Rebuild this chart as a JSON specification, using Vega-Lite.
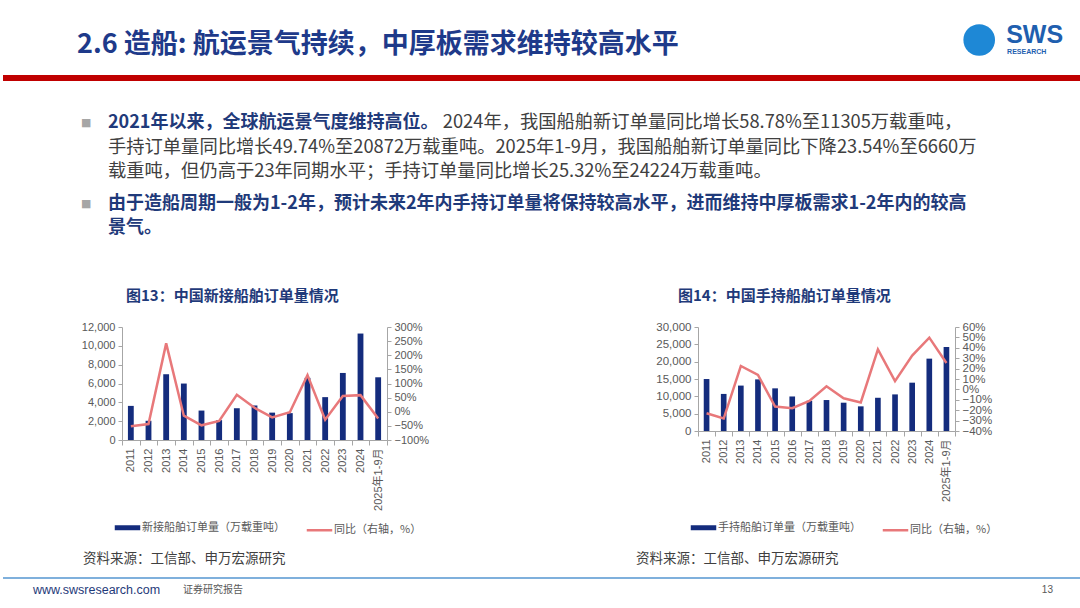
{
  "$schema": "https://vega.github.io/schema/vega-lite/v6.json",
  "padding": 0,
  "background": "white",
  "spacing": 10,
  "config": {
    "view": {"stroke": null},
    "font": "Liberation Sans, Noto Sans CJK SC"
  },
  "vconcat": [
    {
      "width": 1080,
      "height": 279,
      "data": {"values": [
        {"role": "header", "col": -1.72, "line": 1.8, "text": "2.6 造船: 航运景气持续，中厚板需求维持较高水平"},
        {"role": "logoSWS", "col": 49.9, "line": 1.4, "text": "SWS"},
        {"role": "logoRes", "col": 49.95, "line": 2.08, "text": "RESEARCH"},
        {"role": "logoDot", "col": 48.4, "line": 1.6, "text": ""},
        {"role": "bullet", "col": -1.5, "line": 4.92, "text": "■"},
        {"role": "bullet", "col": -1.5, "line": 8.16, "text": "■"},
        {"role": "bold", "col": 0, "line": 4.92, "text": "2021年以来，全球航运景气度维持高位。"},
        {"role": "normal", "col": 18.6, "line": 4.92, "text": "2024年，我国船舶新订单量同比增长58.78%至11305万载重吨，"},
        {"role": "normal", "col": 0, "line": 5.92, "text": "手持订单量同比增长49.74%至20872万载重吨。2025年1-9月，我国船舶新订单量同比下降23.54%至6660万"},
        {"role": "normal", "col": 0, "line": 6.88, "text": "载重吨，但仍高于23年同期水平；手持订单量同比增长25.32%至24224万载重吨。"},
        {"role": "bold", "col": 0, "line": 8.16, "text": "由于造船周期一般为1-2年，预计未来2年内手持订单量将保持较高水平，进而维持中厚板需求1-2年内的较高"},
        {"role": "bold", "col": 0, "line": 9.12, "text": "景气。"}
      ]},
      "layer": [
        {
          "transform": [{"filter": "datum.role === 'header'"}],
          "mark": {"type": "rule", "color": "#C00000", "strokeWidth": 6},
          "encoding": {
            "y": {"datum": 3.12, "type": "quantitative", "scale": {"domain": [0, 11.16], "reverse": true}, "axis": null}
          }
        },
        {
          "transform": [{"filter": "datum.role === 'logoDot'"}],
          "mark": {"type": "circle", "color": "#1E88D6", "opacity": 1, "size": 1000},
          "encoding": {
            "x": {"field": "col", "type": "quantitative", "scale": {"domain": [-5.8333, 54.1667]}, "axis": null},
            "y": {"field": "line", "type": "quantitative", "scale": {"domain": [0, 11.16], "reverse": true}, "axis": null}
          }
        },
        {
          "transform": [{"filter": "datum.role === 'header'"}],
          "mark": {"type": "text", "align": "left", "baseline": "middle", "font": "Noto Sans CJK SC", "fontSize": 27, "fontWeight": "bold", "color": "#1E3A8A"},
          "encoding": {
            "x": {"field": "col", "type": "quantitative", "scale": {"domain": [-5.8333, 54.1667]}, "axis": null},
            "y": {"field": "line", "type": "quantitative", "scale": {"domain": [0, 11.16], "reverse": true}, "axis": null},
            "text": {"field": "text"}
          }
        },
        {
          "transform": [{"filter": "datum.role === 'logoSWS'"}],
          "mark": {"type": "text", "align": "left", "baseline": "middle", "font": "Liberation Sans", "fontSize": 25, "fontWeight": "bold", "color": "#1F5FAF"},
          "encoding": {
            "x": {"field": "col", "type": "quantitative", "scale": {"domain": [-5.8333, 54.1667]}, "axis": null},
            "y": {"field": "line", "type": "quantitative", "scale": {"domain": [0, 11.16], "reverse": true}, "axis": null},
            "text": {"field": "text"}
          }
        },
        {
          "transform": [{"filter": "datum.role === 'logoRes'"}],
          "mark": {"type": "text", "align": "left", "baseline": "middle", "font": "Liberation Sans", "fontSize": 7, "fontWeight": "bold", "color": "#1F5FAF"},
          "encoding": {
            "x": {"field": "col", "type": "quantitative", "scale": {"domain": [-5.8333, 54.1667]}, "axis": null},
            "y": {"field": "line", "type": "quantitative", "scale": {"domain": [0, 11.16], "reverse": true}, "axis": null},
            "text": {"field": "text"}
          }
        },
        {
          "transform": [{"filter": "datum.role === 'bullet'"}],
          "mark": {"type": "text", "align": "left", "baseline": "middle", "font": "DejaVu Sans", "fontSize": 11, "color": "#A6A6A6"},
          "encoding": {
            "x": {"field": "col", "type": "quantitative", "scale": {"domain": [-5.8333, 54.1667]}, "axis": null},
            "y": {"field": "line", "type": "quantitative", "scale": {"domain": [0, 11.16], "reverse": true}, "axis": null},
            "text": {"field": "text"}
          }
        },
        {
          "transform": [{"filter": "datum.role === 'bold'"}],
          "mark": {"type": "text", "align": "left", "baseline": "middle", "font": "Noto Sans CJK SC", "fontSize": 18, "fontWeight": "bold", "color": "#1F3A7A"},
          "encoding": {
            "x": {"field": "col", "type": "quantitative", "scale": {"domain": [-5.8333, 54.1667]}, "axis": null},
            "y": {"field": "line", "type": "quantitative", "scale": {"domain": [0, 11.16], "reverse": true}, "axis": null},
            "text": {"field": "text"}
          }
        },
        {
          "transform": [{"filter": "datum.role === 'normal'"}],
          "mark": {"type": "text", "align": "left", "baseline": "middle", "font": "Noto Sans CJK SC", "fontSize": 18.3, "color": "#404040"},
          "encoding": {
            "x": {"field": "col", "type": "quantitative", "scale": {"domain": [-5.8333, 54.1667]}, "axis": null},
            "y": {"field": "line", "type": "quantitative", "scale": {"domain": [0, 11.16], "reverse": true}, "axis": null},
            "text": {"field": "text"}
          }
        }
      ]
    },
    {
      "spacing": 0,
      "hconcat": [
        {
          "width": 78,
          "height": 10,
          "data": {"values": []},
          "mark": {"type": "text"},
          "encoding": {}
        },
        {
          "spacing": 226,
          "resolve": {"scale": {"color": "independent"}, "legend": {"color": "independent"}},
          "hconcat": [
            {
              "width": 265,
              "height": 113,
              "title": {"text": "图13：中国新接船舶订单量情况", "anchor": "start", "frame": "group", "font": "Noto Sans CJK SC", "fontSize": 15, "fontWeight": "bold", "color": "#1F3A7A", "offset": 17, "dx": 4},
              "data": {"values": [
                {"year": "2011", "orders": 3622, "yoy": -0.51},
                {"year": "2012", "orders": 2041, "yoy": -0.436},
                {"year": "2013", "orders": 6984, "yoy": 2.42},
                {"year": "2014", "orders": 5995, "yoy": -0.14},
                {"year": "2015", "orders": 3126, "yoy": -0.48},
                {"year": "2016", "orders": 2107, "yoy": -0.326},
                {"year": "2017", "orders": 3373, "yoy": 0.6},
                {"year": "2018", "orders": 3667, "yoy": 0.14},
                {"year": "2019", "orders": 2907, "yoy": -0.2},
                {"year": "2020", "orders": 2853, "yoy": -0.02},
                {"year": "2021", "orders": 6600, "yoy": 1.3},
                {"year": "2022", "orders": 4552, "yoy": -0.28},
                {"year": "2023", "orders": 7120, "yoy": 0.56},
                {"year": "2024", "orders": 11305, "yoy": 0.5878},
                {"year": "2025年1-9月", "orders": 6660, "yoy": -0.2354}
              ]},
              "encoding": {
                "x": {"field": "year", "type": "ordinal", "sort": null, "scale": {"paddingInner": 0, "paddingOuter": 0},
                  "axis": {"title": null, "labelAngle": -90, "labelFontSize": 11, "labelColor": "#595959", "tickBand": "extent", "domainColor": "#A6A6A6", "tickColor": "#A6A6A6", "tickSize": 5, "labelPadding": 3}}
              },
              "layer": [
                {
                  "mark": {"type": "bar", "width": {"band": 0.33}},
                  "encoding": {
                    "y": {"field": "orders", "type": "quantitative", "scale": {"domain": [0, 12000]},
                      "axis": {"orient": "left", "title": null, "values": [0, 2000, 4000, 6000, 8000, 10000, 12000], "format": ",d", "grid": false, "labelOverlap": false, "labelFontSize": 11, "labelColor": "#595959", "domainColor": "#A6A6A6", "tickColor": "#A6A6A6", "tickSize": 4, "labelPadding": 3}},
                    "color": {"datum": "新接船舶订单量（万载重吨）", "type": "nominal",
                      "scale": {"domain": ["新接船舶订单量（万载重吨）", "同比（右轴，%）"], "range": ["#142C7D", "#E8787A"]},
                      "legend": {"orient": "bottom", "direction": "horizontal", "title": null, "symbolType": "stroke", "symbolSize": 650, "labelOffset": 9, "labelFontSize": 11, "labelColor": "#595959", "labelFont": "Noto Sans CJK SC", "columnPadding": 16, "offset": 11,
                        "encode": {"symbols": {"update": {"stroke": {"signal": "datum.value === '同比（右轴，%）' ? '#E8787A' : '#142C7D'"}, "strokeWidth": {"signal": "datum.value === '同比（右轴，%）' ? 2.5 : 5"}}}}}}
                  }
                },
                {
                  "mark": {"type": "line", "strokeWidth": 2.5},
                  "encoding": {
                    "y": {"field": "yoy", "type": "quantitative", "scale": {"domain": [-1, 3]},
                      "axis": {"orient": "right", "title": null, "values": [-1, -0.5, 0, 0.5, 1, 1.5, 2, 2.5, 3], "format": ".0%", "grid": false, "labelOverlap": false, "labelFontSize": 11, "labelColor": "#595959", "domainColor": "#A6A6A6", "tickColor": "#A6A6A6", "tickSize": 4, "labelPadding": 3}},
                    "color": {"datum": "同比（右轴，%）", "type": "nominal"}
                  }
                }
              ],
              "resolve": {"scale": {"y": "independent"}}
            },
            {
              "width": 257,
              "height": 104,
              "title": {"text": "图14：中国手持船舶订单量情况", "anchor": "start", "frame": "group", "font": "Noto Sans CJK SC", "fontSize": 15, "fontWeight": "bold", "color": "#1F3A7A", "offset": 17, "dx": -20},
              "data": {"values": [
                {"year": "2011", "orders": 14991, "yoy": -0.23},
                {"year": "2012", "orders": 10695, "yoy": -0.28},
                {"year": "2013", "orders": 13100, "yoy": 0.225},
                {"year": "2014", "orders": 14890, "yoy": 0.14},
                {"year": "2015", "orders": 12304, "yoy": -0.165},
                {"year": "2016", "orders": 9961, "yoy": -0.18},
                {"year": "2017", "orders": 8723, "yoy": -0.11},
                {"year": "2018", "orders": 8931, "yoy": 0.03},
                {"year": "2019", "orders": 8166, "yoy": -0.085},
                {"year": "2020", "orders": 7111, "yoy": -0.125},
                {"year": "2021", "orders": 9584, "yoy": 0.385},
                {"year": "2022", "orders": 10557, "yoy": 0.08},
                {"year": "2023", "orders": 13939, "yoy": 0.325},
                {"year": "2024", "orders": 20872, "yoy": 0.4974},
                {"year": "2025年1-9月", "orders": 24224, "yoy": 0.2532}
              ]},
              "encoding": {
                "x": {"field": "year", "type": "ordinal", "sort": null, "scale": {"paddingInner": 0, "paddingOuter": 0},
                  "axis": {"title": null, "labelAngle": -90, "labelFontSize": 11, "labelColor": "#595959", "tickBand": "extent", "domainColor": "#A6A6A6", "tickColor": "#A6A6A6", "tickSize": 5, "labelPadding": 3}}
              },
              "layer": [
                {
                  "mark": {"type": "bar", "width": {"band": 0.33}},
                  "encoding": {
                    "y": {"field": "orders", "type": "quantitative", "scale": {"domain": [0, 30000]},
                      "axis": {"orient": "left", "title": null, "values": [0, 5000, 10000, 15000, 20000, 25000, 30000], "format": ",d", "grid": false, "labelOverlap": false, "labelFontSize": 11.5, "labelColor": "#595959", "domainColor": "#A6A6A6", "tickColor": "#A6A6A6", "tickSize": 4, "labelPadding": 3}},
                    "color": {"datum": "手持船舶订单量（万载重吨）", "type": "nominal",
                      "scale": {"domain": ["手持船舶订单量（万载重吨）", "同比（右轴，%）"], "range": ["#142C7D", "#E8787A"]},
                      "legend": {"orient": "bottom", "direction": "horizontal", "title": null, "symbolType": "stroke", "symbolSize": 650, "labelOffset": 9, "labelFontSize": 11, "labelColor": "#595959", "labelFont": "Noto Sans CJK SC", "columnPadding": 16, "offset": 20,
                        "encode": {"symbols": {"update": {"stroke": {"signal": "datum.value === '同比（右轴，%）' ? '#E8787A' : '#142C7D'"}, "strokeWidth": {"signal": "datum.value === '同比（右轴，%）' ? 2.5 : 5"}}}}}}
                  }
                },
                {
                  "mark": {"type": "line", "strokeWidth": 2.5},
                  "encoding": {
                    "y": {"field": "yoy", "type": "quantitative", "scale": {"domain": [-0.4, 0.6]},
                      "axis": {"orient": "right", "title": null, "values": [-0.4, -0.3, -0.2, -0.1, 0, 0.1, 0.2, 0.3, 0.4, 0.5, 0.6], "format": ".0%", "grid": false, "labelOverlap": false, "labelFontSize": 11.5, "labelColor": "#595959", "domainColor": "#A6A6A6", "tickColor": "#A6A6A6", "tickSize": 4, "labelPadding": 3}},
                    "color": {"datum": "同比（右轴，%）", "type": "nominal"}
                  }
                }
              ],
              "resolve": {"scale": {"y": "independent"}}
            }
          ]
        }
      ]
    },
    {
      "width": 1080,
      "height": 63,
      "data": {"values": [
        {"role": "source", "col": -1.39, "line": 0.44, "text": "资料来源：工信部、申万宏源研究"},
        {"role": "source", "col": 29.33, "line": 0.44, "text": "资料来源：工信部、申万宏源研究"},
        {"role": "site", "col": -4.17, "line": 1.68, "text": "www.swsresearch.com"},
        {"role": "tag", "col": 4.17, "line": 1.68, "text": "证券研究报告"},
        {"role": "page", "col": 52.5, "line": 1.68, "text": "13"}
      ]},
      "layer": [
        {
          "transform": [{"filter": "datum.role === 'page'"}],
          "mark": {"type": "rule", "color": "#7FB0DC", "strokeWidth": 2},
          "encoding": {
            "y": {"datum": 1.2, "type": "quantitative", "scale": {"domain": [0, 2.52], "reverse": true}, "axis": null}
          }
        },
        {
          "transform": [{"filter": "datum.role === 'source'"}],
          "mark": {"type": "text", "align": "left", "baseline": "middle", "font": "Noto Sans CJK SC", "fontSize": 13.5, "color": "#404040"},
          "encoding": {
            "x": {"field": "col", "type": "quantitative", "scale": {"domain": [-5.8333, 54.1667]}, "axis": null},
            "y": {"field": "line", "type": "quantitative", "scale": {"domain": [0, 2.52], "reverse": true}, "axis": null},
            "text": {"field": "text"}
          }
        },
        {
          "transform": [{"filter": "datum.role === 'site'"}],
          "mark": {"type": "text", "align": "left", "baseline": "middle", "font": "Liberation Sans", "fontSize": 12.5, "color": "#1F3A7A"},
          "encoding": {
            "x": {"field": "col", "type": "quantitative", "scale": {"domain": [-5.8333, 54.1667]}, "axis": null},
            "y": {"field": "line", "type": "quantitative", "scale": {"domain": [0, 2.52], "reverse": true}, "axis": null},
            "text": {"field": "text"}
          }
        },
        {
          "transform": [{"filter": "datum.role === 'tag'"}],
          "mark": {"type": "text", "align": "left", "baseline": "middle", "font": "Noto Sans CJK SC", "fontSize": 10, "color": "#595959"},
          "encoding": {
            "x": {"field": "col", "type": "quantitative", "scale": {"domain": [-5.8333, 54.1667]}, "axis": null},
            "y": {"field": "line", "type": "quantitative", "scale": {"domain": [0, 2.52], "reverse": true}, "axis": null},
            "text": {"field": "text"}
          }
        },
        {
          "transform": [{"filter": "datum.role === 'page'"}],
          "mark": {"type": "text", "align": "right", "baseline": "middle", "font": "Liberation Sans", "fontSize": 10, "color": "#595959"},
          "encoding": {
            "x": {"field": "col", "type": "quantitative", "scale": {"domain": [-5.8333, 54.1667]}, "axis": null},
            "y": {"field": "line", "type": "quantitative", "scale": {"domain": [0, 2.52], "reverse": true}, "axis": null},
            "text": {"field": "text"}
          }
        }
      ]
    }
  ]
}
